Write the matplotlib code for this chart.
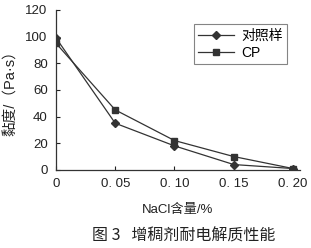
import matplotlib
matplotlib.use('Agg')
import matplotlib.pyplot as plt

plt.rcParams['font.family'] = ['Liberation Sans', 'Noto Sans CJK SC', 'DejaVu Sans']

# data
nacl = [0, 0.05, 0.10, 0.15, 0.20]
control = [99, 35, 18, 4, 1]
cp = [95, 45, 22, 10, 1]
xticks = [0, 0.05, 0.10, 0.15, 0.20]
xticklabels = ['0', '0. 05', '0. 10', '0. 15', '0. 20']
yticks = [0, 20, 40, 60, 80, 100, 120]

fig = plt.figure(figsize=(3.11, 2.48), dpi=100)
ax = fig.add_axes([0.18, 0.315, 0.785, 0.645])

ax.plot(nacl, control, color='#333333', lw=0.9, marker='D', ms=4, label='对照样')
ax.plot(nacl, cp, color='#333333', lw=0.9, marker='s', ms=4.5, label='CP')

ax.set_xlim(0, 0.206)
ax.set_ylim(0, 120)
ax.set_xticks(xticks)
ax.set_xticklabels(xticklabels)
ax.set_yticks(yticks)
ax.tick_params(direction='in', length=3, labelsize=9.5, colors='#222222', pad=6)
for s in ['top', 'right']:
    ax.spines[s].set_visible(False)
for s in ['left', 'bottom']:
    ax.spines[s].set_color('#333333')
    ax.spines[s].set_linewidth(0.9)

ax.set_xlabel('NaCl含量/%', fontsize=9.5, labelpad=10, color='#222222')
ax.set_ylabel('黏度/（Pa·s）', fontsize=10.5, labelpad=5, color='#222222')

leg = ax.legend(loc='upper right', bbox_to_anchor=(0.947, 0.91), fontsize=10,
                frameon=True, fancybox=False, edgecolor='#666666',
                handlelength=2.6, handletextpad=0.5, borderpad=0.3,
                labelspacing=0.25, borderaxespad=0)
leg.get_frame().set_linewidth(0.8)

fig.text(0.59, 0.03, '图 3   增稠剂耐电解质性能', ha='center', fontsize=11.5,
         color='#222222', family=['Noto Sans CJK SC', 'DejaVu Sans'])

fig.savefig('out.png', dpi=100)
